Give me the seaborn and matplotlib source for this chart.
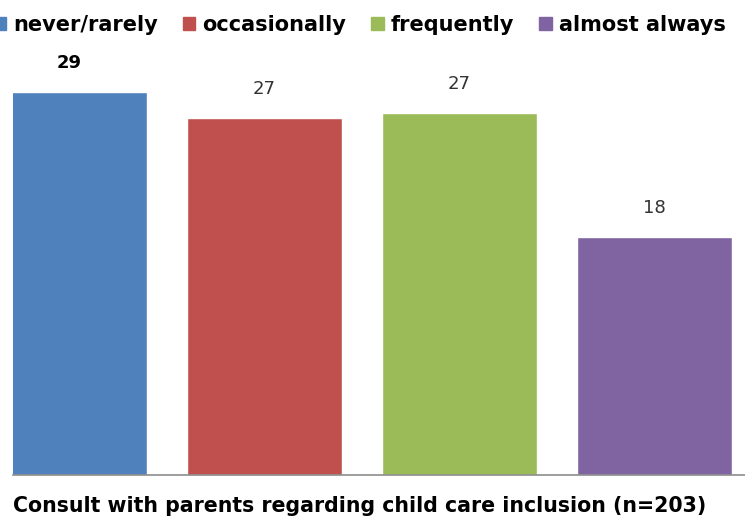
import numpy as np
import pandas as pd
import matplotlib
matplotlib.use("Agg")
import matplotlib.pyplot as plt
from matplotlib.patches import Patch
import seaborn as sns

# ── data ────────────────────────────────────────────────────────────────
categories = ["never/rarely", "occasionally", "frequently", "almost always"]
values     = [29.0, 27.0, 27.4, 18.0]
labels     = ["29", "27", "27", "18"]
colors     = ["#4F81BD", "#C0504D", "#9BBB59", "#8064A2"]
xlabel     = "Consult with parents regarding child care inclusion (n=203)"

sns.set_style("white")
plt.rcParams['font.family'] = ['DejaVu Sans']
plt.rcParams['text.color'] = 'black'

W, H = 745, 521
fig = plt.figure(figsize=(W / 100, H / 100), dpi=100)
# axes: left edge at x=13px, baseline at y=475px
ax = fig.add_axes([13 / W, (H - 475) / H, (W - 13) / W, 462 / H])

df = pd.DataFrame({"cat": categories, "val": values})
sns.barplot(data=df, x="cat", y="val", hue="cat", palette=colors,
            width=0.795, dodge=False, legend=False, ax=ax, saturation=1)

# px -> data: bar spacing 195px, first centre at 69.5px
ax.set_xlim(-56.5 / 195, (W - 69.5) / 195)
ax.set_ylim(0, 462 / 13.22)

for i, (bar, lab) in enumerate(zip(ax.patches, labels)):
    ax.annotate(lab, (bar.get_x() + bar.get_width() / 2, bar.get_height()),
                xytext=(0, 20), textcoords="offset pixels", ha="center",
                va="bottom", fontsize=13,
                fontweight="bold" if i == 0 else "normal",
                color="black" if i == 0 else "#333333")

for s in ["top", "left", "right"]:
    ax.spines[s].set_visible(False)
ax.spines["bottom"].set_color("#8C8C8C")
ax.spines["bottom"].set_linewidth(1.2)
ax.set_xticks([])
ax.set_yticks([])
ax.set_ylabel("")
ax.set_xlabel(xlabel, loc="left", fontsize=14.8, fontweight="bold",
              color="black", labelpad=15)

handles = [Patch(color=c) for c in colors]
fig.legend(handles, categories, loc="center left",
           bbox_to_anchor=(-7 / W, 1 - 25 / H), ncol=4, frameon=False,
           prop={"size": 15.0, "weight": "bold"}, labelcolor="black",
           handlelength=0.62, handleheight=0.62,
           handletextpad=0.33, columnspacing=1.2, borderpad=0,
           borderaxespad=0)

fig.savefig("out.png", dpi=100)
